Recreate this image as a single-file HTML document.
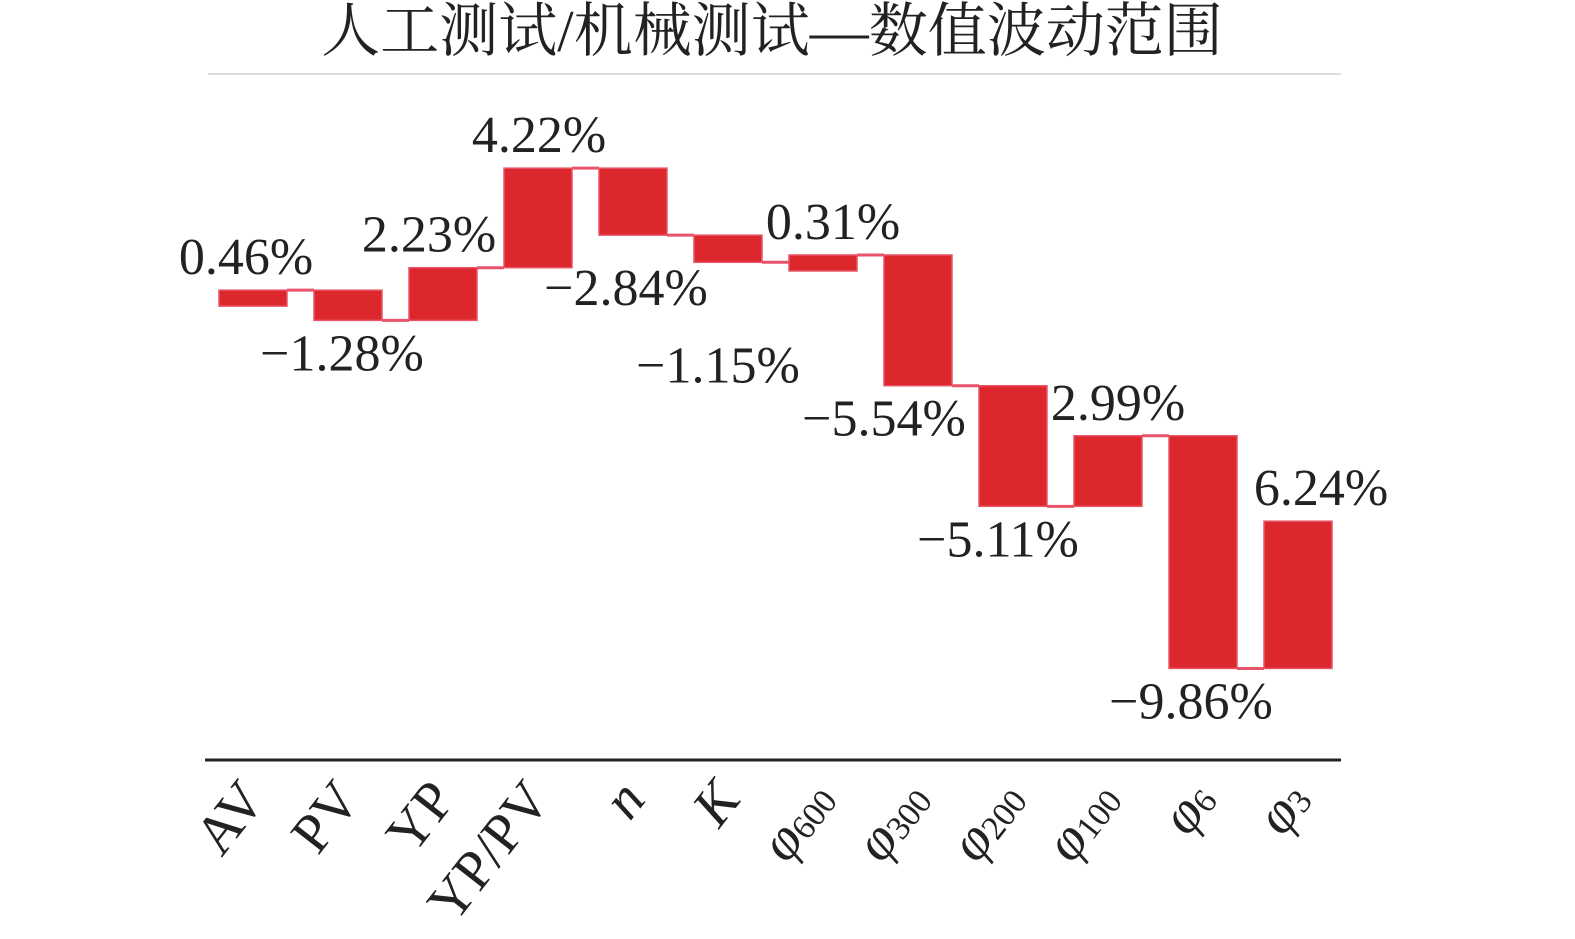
<!DOCTYPE html>
<html><head><meta charset="utf-8"><style>
body{margin:0;background:#fff;}
svg{display:block;}
</style></head><body>
<svg width="1575" height="939" xmlns="http://www.w3.org/2000/svg">
<text x="772" y="51" text-anchor="middle" font-family="'Liberation Serif','Noto Serif CJK SC',serif" font-size="59" fill="#222">人工测试/机械测试—数值波动范围</text>
<line x1="208" y1="74" x2="1341" y2="74" stroke="#ddd" stroke-width="2"/>
<line x1="205" y1="760" x2="1341" y2="760" stroke="#222" stroke-width="3"/>
<g id="marks"></g>
</svg>
<script>
const categories=["AV","PV","YP","YP/PV","n","K","φ600","φ300","φ200","φ100","φ6","φ3"];
const values=[0.46,-1.28,2.23,4.22,-2.84,-1.15,0.31,-5.54,-5.11,2.99,-9.86,6.24];
const valueLabels=["0.46%","−1.28%","2.23%","4.22%","−2.84%","−1.15%","0.31%","−5.54%","−5.11%","2.99%","−9.86%","6.24%"];
// layout nudges for label placement (not data)
const labelDx=[-7,-6,-14,1,-7,-10,10,-34,-15,10,-12,23];
const labelDy=[0,0,0,0,20,70,0,0,0,0,0,0];
const NS="http://www.w3.org/2000/svg";
const g=document.getElementById('marks');
const x=i=>253+95*i;
const y=v=>301-v*23.6;
const bw=68;
function mk(t,a){const e=document.createElementNS(NS,t);for(const k in a)e.setAttribute(k,a[k]);return e;}
let cum=0;
values.forEach((v,i)=>{
  const s=cum,e=cum+v;cum=e;
  const top=Math.min(y(s),y(e)),h=Math.max(Math.abs(y(s)-y(e)),16);
  const r=mk('rect',{x:x(i)-bw/2,y:top,width:bw,height:h,fill:'#dc282c',stroke:'#e8556a','stroke-width':1.5});
  
  
  g.appendChild(r);
  if(i<values.length-1){
    const c=mk('line',{x1:x(i)+bw/2,x2:x(i+1)-bw/2,y1:y(e),y2:y(e),stroke:'#e8556a','stroke-width':3});
    
    
    g.appendChild(c);
  }
  const ly=(v>=0?top-16:top+h+50)+labelDy[i];
  const t=mk('text',{x:x(i)+labelDx[i],y:ly,'text-anchor':'middle','font-family':"'Liberation Serif',serif",'font-size':52,fill:'#222'});
  t.textContent=valueLabels[i];
  
  
  g.appendChild(t);
  const lx=x(i)+14,lyy=800;
  const tl=mk('text',{x:lx,y:lyy,'text-anchor':'end','font-family':"'Liberation Serif',serif",'font-size':56,fill:'#222',transform:`rotate(-52 ${lx} ${lyy})`});
  const name=categories[i];
  if(name.startsWith('φ')){
    const a=mk('tspan',{'font-style':'italic'});a.textContent='φ';tl.appendChild(a);
    const b=mk('tspan',{'font-size':34,dy:2});b.textContent=name.slice(1);tl.appendChild(b);
  } else {
    if(name==='n'||name==='K')tl.setAttribute('font-style','italic');
    tl.textContent=name;
  }
  
  
  g.appendChild(tl);
});
</script>
</body></html>
